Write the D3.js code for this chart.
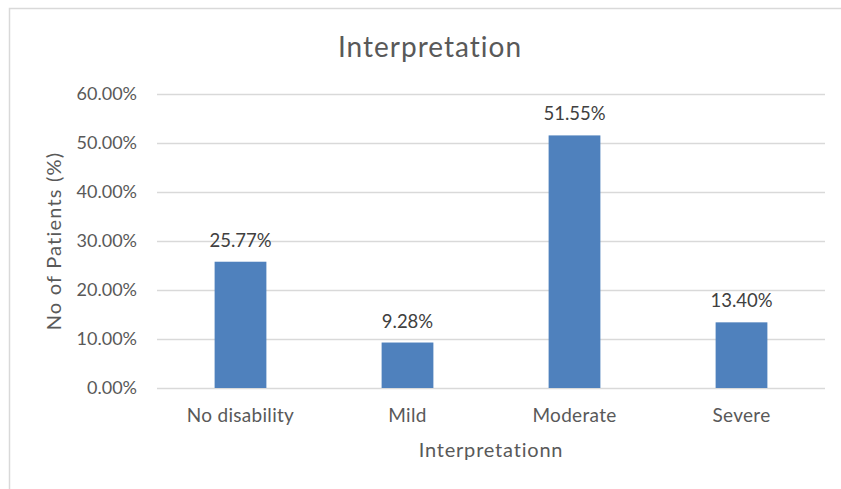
<!DOCTYPE html>
<html>
<head>
<meta charset="utf-8">
<script src="https://cdn.jsdelivr.net/npm/d3@7"></script>
<style>
  body { margin: 0; background: #fff; }
  text { font-family: Lato, "Open Sans", sans-serif; fill: #595959; }
</style>
</head>
<body>
<script>
const categories = ["No disability", "Mild", "Moderate", "Severe"];
const values = [25.77, 9.28, 51.55, 13.40];
const yTicks = [0, 10, 20, 30, 40, 50, 60];

const width = 841, height = 489;

const svg = d3.select("body")
    .append("svg")
    .attr("width", width)
    .attr("height", height);

// outer chart border
svg.append("rect")
    .attr("x", 9.5)
    .attr("y", 8.5)
    .attr("width", 900)
    .attr("height", 600)
    .style("fill", "#fff")
    .style("stroke", "#d9d9d9")
    .style("stroke-width", 1.5);

const x = d3.scaleBand()
    .domain(categories)
    .range([157, 825])
    .paddingInner(0.69)
    .paddingOuter(0.345);

const y = d3.scaleLinear()
    .domain([0, 60])
    .range([388, 94]);

// gridlines
svg.append("g")
    .selectAll("line")
    .data(yTicks)
    .enter()
    .append("line")
    .attr("x1", 157)
    .attr("x2", 825)
    .attr("y1", d => Math.round(y(d)) + 0.5)
    .attr("y2", d => Math.round(y(d)) + 0.5)
    .attr("stroke", "#d9d9d9")
    .attr("stroke-width", 1.5);

// y tick labels
svg.append("g")
    .selectAll("text")
    .data(yTicks)
    .enter()
    .append("text")
    .attr("x", 137)
    .attr("y", d => y(d))
    .attr("dy", "0.35em")
    .attr("text-anchor", "end")
    .style("font-size", "18px")
    .text(d => d.toFixed(2) + "%");

// bars
svg.append("g")
    .selectAll("rect")
    .data(values)
    .enter()
    .append("rect")
    .attr("x", (d, i) => x(categories[i]))
    .attr("y", d => y(d))
    .attr("width", x.bandwidth())
    .attr("height", d => y(0) - y(d))
    .attr("fill", "#4f81bd");

// data labels
svg.append("g")
    .selectAll("text")
    .data(values)
    .enter()
    .append("text")
    .attr("x", (d, i) => x(categories[i]) + x.bandwidth() / 2)
    .attr("y", d => y(d) - 15)
    .attr("text-anchor", "middle")
    .style("font-size", "18.5px")
    .style("fill", "#404040")
    .text(d => d.toFixed(2) + "%");

// category labels
svg.append("g")
    .selectAll("text")
    .data(categories)
    .enter()
    .append("text")
    .attr("x", d => x(d) + x.bandwidth() / 2)
    .attr("y", 422)
    .attr("text-anchor", "middle")
    .style("font-size", "19px")
    .style("letter-spacing", "0.3px")
    .text(d => d);

// title
svg.append("text")
    .attr("x", 430)
    .attr("y", 57)
    .attr("text-anchor", "middle")
    .style("font-size", "28px")
    .style("letter-spacing", "1px")
    .text("Interpretation");

// axis titles
svg.append("text")
    .attr("x", 491)
    .attr("y", 457)
    .attr("text-anchor", "middle")
    .style("font-size", "20px")
    .style("letter-spacing", "0.8px")
    .text("Interpretationn");

svg.append("text")
    .attr("transform", "translate(61,241) rotate(-90)")
    .attr("text-anchor", "middle")
    .style("font-size", "20px")
    .style("letter-spacing", "1.2px")
    .text("No of Patients (%)");
</script>
</body>
</html>
